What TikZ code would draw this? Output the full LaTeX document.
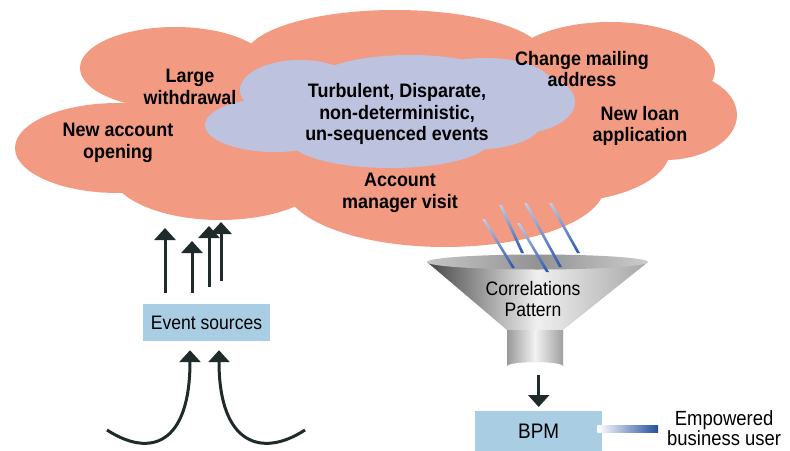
\documentclass[tikz,border=0pt]{standalone}
\usepackage{fontspec}
\setmainfont[FakeStretch=0.9]{Liberation Sans}
\newfontfamily\eventfont[FakeStretch=0.92]{Liberation Sans}
\usetikzlibrary{arrows.meta,positioning}
\definecolor{salmon}{HTML}{F29A82}
\definecolor{haze}{HTML}{BDC2DE}
\definecolor{boxblue}{HTML}{A9CDE2}
\definecolor{ink}{HTML}{1F2B2B}
\definecolor{ray}{HTML}{2A58B0}
\tikzset{
  lobe/.style={fill=salmon, draw=none},
  inner lobe/.style={fill=haze, draw=none},
  event/.style={font=\eventfont\bfseries\fontsize{19.5}{21.5}\selectfont, align=center, text=black, inner sep=0pt},
  plain/.style={font=\fontsize{19.5}{21.5}\selectfont, align=center, text=black, inner sep=0pt},
  srcbox/.style={fill=boxblue, draw=none, minimum width=127pt, minimum height=37pt, inner sep=0pt,
                 font=\fontsize{19.5}{22}\selectfont},
  upflow/.style={draw=ink, line width=3pt, -{Triangle[width=21pt,length=12pt]}},
  beam/.style={top color=white!70!ray, bottom color=ray, draw=none}
}
\begin{document}
\begin{tikzpicture}[x=1pt,y=-1pt]
\useasboundingbox (0,0) rectangle (790,450);

% outer event cloud
\fill[lobe] (400,125) ellipse [x radius=250, y radius=80];
\fill[lobe] (175,68) ellipse [x radius=95, y radius=41];
\fill[lobe] (118,148) ellipse [x radius=103, y radius=45];
\fill[lobe] (220,170) ellipse [x radius=110, y radius=50];
\fill[lobe] (395,57) ellipse [x radius=150, y radius=47];
\fill[lobe] (610,70) ellipse [x radius=105, y radius=48];
\fill[lobe] (665,115) ellipse [x radius=72, y radius=45];
\fill[lobe] (560,150) ellipse [x radius=110, y radius=52];
\fill[lobe] (445,185) ellipse [x radius=160, y radius=62];

% inner cloud
\fill[inner lobe] (275,125) ellipse [x radius=70, y radius=27];
\fill[inner lobe] (300,90) ellipse [x radius=60, y radius=30];
\fill[inner lobe] (410,85) ellipse [x radius=100, y radius=30];
\fill[inner lobe] (485,82) ellipse [x radius=65, y radius=24];
\fill[inner lobe] (515,102) ellipse [x radius=60, y radius=32];
\fill[inner lobe] (390,140) ellipse [x radius=100, y radius=28];
\fill[inner lobe] (470,125) ellipse [x radius=70, y radius=25];
\fill[inner lobe] (390,110) ellipse [x radius=130, y radius=30];

% event labels
\node[event] (withdrawal) at (190,87) {Large\\withdrawal};
\node[event] (opening) at (118,143) {New account\\opening};
\node[event] (turbulent) at (397,114) {Turbulent, Disparate,\\non-deterministic,\\un-sequenced events};
\node[event] (visit) at (400,193) {Account\\manager visit};
\node[event] (mailing) at (582,69) {Change mailing\\address};
\node[event] (loan) at (640,126) {New loan\\application};

% event sources and their flows
\node[srcbox] (sources) at (206.5,322.5) {Event sources};
\coordinate (t1) at (165,228);
\coordinate (t2) at (192,241);
\coordinate (t3) at (209,226);
\coordinate (t4) at (221,222);
\draw[upflow] ([yshift=11pt]sources.north -| t1) -- (t1);
\draw[upflow] ([yshift=11pt]sources.north -| t2) -- (t2);
\draw[upflow] ([yshift=17pt]sources.north -| t3) -- (t3);
\draw[upflow] ([yshift=23pt]sources.north -| t4) -- (t4);
\coordinate (s1) at (107,430);
\coordinate (s2) at (305,430);
\draw[upflow] (s1) .. controls (150,458) and (190,445) .. ([yshift=-9pt]sources.south -| 190,0);
\draw[upflow] (s2) .. controls (262,458) and (219,445) .. ([yshift=-9pt]sources.south -| 219,0);

% funnel
\shade[left color=gray!55!black, right color=gray!70, middle color=gray!12]
  (427,262) -- (507,330) -- (507,366) arc [start angle=180, end angle=360, x radius=28, y radius=4]
  -- (563,330) -- (648,262) -- cycle;
\shade[left color=gray!80, right color=gray!75, middle color=gray!10]
  (507,330) -- (507,366) arc [start angle=180, end angle=360, x radius=28, y radius=4] -- (563,330) -- cycle;
\shade[left color=gray!45, right color=gray!40, middle color=gray!85] (537.5,262) ellipse [x radius=110.5, y radius=7.5];
\node[plain] (pattern) at (533,299) {Correlations\\Pattern};
\coordinate (neck) at (535,375);

% beams falling into the funnel
\shade[beam] (482,219) -- (485,219) -- (515,268) -- (512,268) -- cycle;
\shade[beam] (499,205) -- (502,205) -- (524,253) -- (521,253) -- cycle;
\shade[beam] (517,223) -- (520,223) -- (549,272) -- (546,272) -- cycle;
\shade[beam] (524,203) -- (527,203) -- (562,267) -- (559,267) -- cycle;
\shade[beam] (549,203) -- (552,203) -- (580,253) -- (577,253) -- cycle;

% BPM and user
\node[srcbox, minimum width=127pt, minimum height=40pt, anchor=north west,
      font=\fontsize{21}{24}\selectfont] (bpm) at (475,411) {BPM};
\draw[upflow, line width=2.5pt] (neck -| bpm.north) -- ([yshift=4pt]bpm.north);
\shade[left color=white, right color=ray!90!black] ([xshift=-5pt]bpm.east |- 0,425) rectangle (658,432);
\node[plain, anchor=west, font=\fontsize{20.5}{20.5}\selectfont] (user) at (667,428) {Empowered\\business user};
\end{tikzpicture}
\end{document}
